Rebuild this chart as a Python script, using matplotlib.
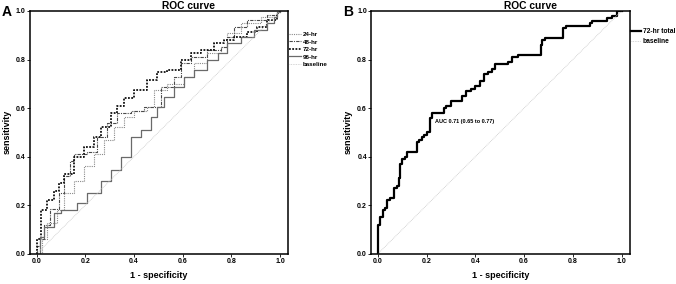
import matplotlib
matplotlib.use("Agg")
import matplotlib.pyplot as plt

plt.rcParams['font.family'] = ['Liberation Sans', 'DejaVu Sans']
plt.rcParams['font.weight'] = 'bold'

# panel A: ROC curves by time point (1 - specificity, sensitivity)
x_24 = [0, 0.02, 0.044, 0.085, 0.112, 0.153, 0.194, 0.235, 0.277, 0.318, 0.359, 0.40, 0.455, 0.482, 0.537, 0.605, 0.646, 0.70, 0.756, 0.784, 0.838, 0.92, 0.989, 1.0]
y_24 = [0, 0.06, 0.125, 0.18, 0.25, 0.30, 0.36, 0.41, 0.47, 0.52, 0.565, 0.59, 0.606, 0.674, 0.70, 0.73, 0.784, 0.826, 0.853, 0.908, 0.95, 0.977, 0.997, 1.0]

x_48 = [0, 0, 0.014, 0.03, 0.055, 0.09, 0.112, 0.135, 0.153, 0.208, 0.249, 0.29, 0.331, 0.386, 0.44, 0.51, 0.564, 0.592, 0.633, 0.70, 0.756, 0.784, 0.811, 0.866, 0.948, 0.989, 1.0]
y_48 = [0, 0.03, 0.06, 0.12, 0.185, 0.25, 0.32, 0.38, 0.41, 0.42, 0.48, 0.537, 0.578, 0.59, 0.606, 0.688, 0.73, 0.784, 0.81, 0.84, 0.853, 0.894, 0.935, 0.963, 0.983, 0.997, 1.0]

x_72 = [0, 0, 0.016, 0.044, 0.071, 0.09, 0.112, 0.153, 0.194, 0.235, 0.263, 0.304, 0.331, 0.359, 0.40, 0.455, 0.496, 0.537, 0.592, 0.633, 0.674, 0.729, 0.77, 0.811, 0.866, 0.907, 0.948, 0.989, 1.0]
y_72 = [0, 0.06, 0.18, 0.22, 0.26, 0.29, 0.33, 0.40, 0.44, 0.48, 0.52, 0.58, 0.61, 0.64, 0.675, 0.715, 0.75, 0.757, 0.80, 0.826, 0.84, 0.867, 0.88, 0.894, 0.915, 0.935, 0.963, 0.99, 1.0]

x_96 = [0, 0.014, 0.03, 0.071, 0.10, 0.167, 0.208, 0.263, 0.304, 0.345, 0.386, 0.427, 0.468, 0.496, 0.523, 0.564, 0.605, 0.646, 0.70, 0.745, 0.784, 0.838, 0.893, 0.948, 0.975, 0.989, 1.0]
y_96 = [0, 0.07, 0.11, 0.166, 0.18, 0.207, 0.249, 0.30, 0.345, 0.40, 0.48, 0.51, 0.565, 0.606, 0.647, 0.688, 0.73, 0.757, 0.80, 0.826, 0.867, 0.894, 0.92, 0.95, 0.977, 0.997, 1.0]

# panel B: 72-hr total
x_tot = [0, 0, 0.01, 0.02, 0.03, 0.035, 0.05, 0.065, 0.08, 0.085, 0.09, 0.10, 0.11, 0.12, 0.16, 0.17, 0.18, 0.19, 0.20, 0.215,
         0.22, 0.27, 0.28, 0.30, 0.345, 0.36, 0.38, 0.40, 0.42, 0.435, 0.45, 0.467, 0.48, 0.535, 0.55, 0.575, 0.67, 0.675, 0.685, 0.76,
         0.77, 0.87, 0.88, 0.94, 0.96, 0.98, 1.0]
y_tot = [0, 0.12, 0.15, 0.18, 0.19, 0.22, 0.23, 0.27, 0.28, 0.31, 0.37, 0.39, 0.40, 0.42, 0.46, 0.47, 0.48, 0.49, 0.50, 0.56,
         0.58, 0.60, 0.61, 0.63, 0.65, 0.67, 0.68, 0.69, 0.71, 0.74, 0.75, 0.76, 0.78, 0.79, 0.81, 0.82, 0.86, 0.88, 0.89, 0.93,
         0.94, 0.95, 0.96, 0.97, 0.98, 1.0, 1.0]

ticks = [0.0, 0.2, 0.4, 0.6, 0.8, 1.0]
auc_text = "AUC 0.71 (0.65 to 0.77)"

fig = plt.figure(figsize=(6.76, 2.84), dpi=100)
axA = fig.add_axes([0.0444, 0.1067, 0.3817, 0.8546])
axB = fig.add_axes([0.5493, 0.1067, 0.3827, 0.8546])


def style(ax, xlim):
    ax.set_xlim(*xlim)
    ax.set_ylim(0, 1)
    ax.set_xticks(ticks)
    ax.set_yticks(ticks)
    ax.set_xticklabels([f"{t:.1f}" for t in ticks])
    ax.set_yticklabels([f"{t:.1f}" for t in ticks])
    ax.tick_params(labelsize=5, length=2.2, width=0.6, pad=1)
    for s in ax.spines.values():
        s.set_linewidth(1.1)
    ax.set_xlabel("1 - specificity", fontsize=6.5, fontweight='bold', labelpad=4)
    ax.set_ylabel("sensitivity", fontsize=6.5, fontweight='bold', labelpad=3)


style(axA, (-0.0275, 1.033))
style(axB, (-0.0274, 1.035))

# panel A
axA.plot(x_24, y_24, drawstyle='steps-post', color='#8a8a8a', lw=0.8, ls=(0, (1, 1)), label='24-hr')
axA.plot(x_48, y_48, drawstyle='steps-post', color='#4a4a4a', lw=0.8, ls=(0, (3, 1, 1, 1)), label='48-hr')
axA.plot(x_72, y_72, drawstyle='steps-post', color='#111111', lw=1.3, ls=(0, (1, 0.8)), label='72-hr')
axA.plot(x_96, y_96, drawstyle='steps-post', color='#6a6a6a', lw=0.9, ls='-', label='96-hr')
axA.plot([0, 1], [0, 1], color='#c8c8c8', lw=0.6, ls=(0, (1, 1)), label='baseline')
axA.legend(loc='upper left', bbox_to_anchor=(1.003, 0.915), frameon=False, fontsize=4.5,
           handlelength=2.0, handletextpad=0.2, labelspacing=0.35, borderpad=0, borderaxespad=0)

# panel B
axB.plot(x_tot, y_tot, drawstyle='steps-post', color='black', lw=1.6, label='72-hr total')
axB.plot([0, 1], [0, 1], color='#c8c8c8', lw=0.6, ls=(0, (1, 1)), label='baseline')
axB.text(0.233, 0.545, auc_text, fontsize=4, fontweight='bold', va='center', ha='left')
axB.legend(loc='upper left', bbox_to_anchor=(1.003, 0.93), frameon=False, fontsize=4.8,
           handlelength=1.5, handletextpad=0.3, labelspacing=0.5, borderpad=0, borderaxespad=0)

# titles and panel letters
fig.text(189 / 676, 1 - 6 / 284, "ROC curve", fontsize=7.4, fontweight='bold', ha='center', va='center')
fig.text(530 / 676, 1 - 6 / 284, "ROC curve", fontsize=7.4, fontweight='bold', ha='center', va='center')
fig.text(2 / 676, 1 - 12 / 284, "A", fontsize=10, fontweight='bold', ha='left', va='center')
fig.text(343 / 676, 1 - 12 / 284, "B", fontsize=10, fontweight='bold', ha='left', va='center')

fig.savefig("out.png", dpi=100)
